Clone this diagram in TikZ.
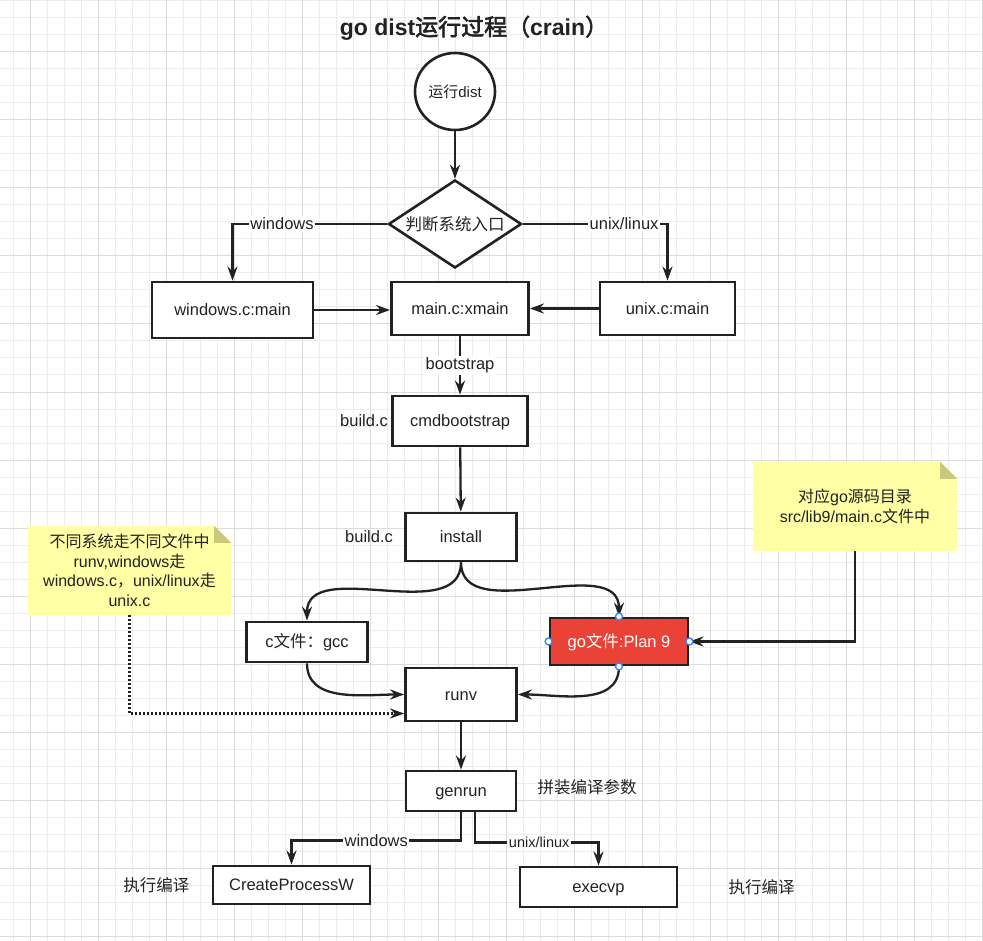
\documentclass[tikz,border=0pt]{standalone}
\usepackage{fontspec}
\setmainfont{Liberation Sans}
\newfontfamily\zhfont{Noto Sans CJK SC}[AutoFakeBold=2.5]
\usepackage{tikz}
\usetikzlibrary{positioning}
\usetikzlibrary{shapes.geometric, arrows.meta}
\definecolor{myline}{RGB}{34,34,34}
\definecolor{mynote}{HTML}{FFFFA5}
\definecolor{myfold}{HTML}{C9C87B}
\definecolor{myred}{HTML}{EA4237}
\definecolor{myhand}{HTML}{3A86F0}
\definecolor{mygri1}{HTML}{EDEDED}
\definecolor{mygri2}{HTML}{DCDCDC}
\pgfdeclarelayer{grid}
\pgfdeclarelayer{paper}
\pgfsetlayers{grid,paper,main}
\tikzstyle{startstop} = [ellipse, minimum width=80, minimum height=77, inner sep=0pt, draw=myline, line width=2.6pt, fill=white, text=myline, font=\fontsize{15}{18}\selectfont]
\tikzstyle{decision} = [diamond, aspect=1.5, minimum width=133, minimum height=88, inner sep=0pt, draw=myline, line width=2.6pt, fill=white, text=myline, font=\fontsize{16.5}{19}\selectfont]
\tikzstyle{process} = [rectangle, inner sep=0pt, draw=myline, line width=2.8pt, fill=white, text=myline, text height=13.5pt, text depth=2pt, font=\fontsize{16.5}{19}\selectfont]
\tikzstyle{goproc} = [process, fill=myred, text=white]
\tikzstyle{note} = [rectangle, align=center, inner sep=0pt, text=myline, font=\fontsize{16}{19.5}\selectfont]
\tikzstyle{tag} = [fill=white, inner sep=1.5pt, text=myline, font=\fontsize{16.5}{19}\selectfont]
\tikzstyle{aside} = [inner sep=0pt, text=myline, font=\fontsize{16.5}{19}\selectfont]
\tikzstyle{flow} = [line width=2.3pt, draw=myline, ->, >={Stealth[length=14pt,width=10pt]}]
\tikzstyle{hint} = [flow, dash pattern=on 2pt off 2pt]
\tikzstyle{handle} = [draw=myhand, fill=white, line width=1.4pt]
\tikzstyle{minorgrid} = [draw=mygri1, line width=1pt]
\tikzstyle{majorgrid} = [draw=mygri2, line width=1pt]

\begin{document}
\begin{tikzpicture}[x=1pt,y=-1pt]
	\useasboundingbox (0,0) rectangle (983,941);
	% squared paper
	\begin{pgfonlayer}{grid}
	\fill[white] (0,0) rectangle (983,941);
	\foreach \gx in {13.5,30.5,...,983} \draw[minorgrid] (\gx,0) -- (\gx,941);
	\foreach \gy in {1,18,...,941} \draw[minorgrid] (0,\gy) -- (983,\gy);
	\foreach \gx in {30.5,98.5,...,983} \draw[majorgrid] (\gx,0) -- (\gx,941);
	\foreach \gy in {52,120,...,941} \draw[majorgrid] (0,\gy) -- (983,\gy);
	\end{pgfonlayer}

	\node (title) [text=myline, font=\fontsize{23}{28}\selectfont\bfseries] at (474,28) {go dist{\zhfont 运行过程（}crain{\zhfont ）}};
	\node (start) [startstop] at (455,91.5) {{\zhfont 运行}dist};
	\node (judge) [decision] at (455,224) {\zhfont 判断系统入口};
	\node (winmain) [process, minimum width=161, minimum height=56] at (232.5,310) {windows.c:main};
	\node (xmain) [process, minimum width=137, minimum height=53] at (460,308.5) {main.c:xmain};
	\node (unixmain) [process, minimum width=135, minimum height=53] at (667.5,308.5) {unix.c:main};
	\node (cmdboot) [process, minimum width=135, minimum height=50] at (460,421) {cmdbootstrap};
	\node (install) [process, minimum width=111, minimum height=48] at (461,537) {install};
	\node (cfile) [process, minimum width=121, minimum height=40] at (307,642) {c{\zhfont 文件：}gcc};
	\node (gofile) [goproc, minimum width=138, minimum height=47] at (619,641.5) {go{\zhfont 文件}:Plan 9};
	\node (runv) [process, minimum width=111, minimum height=53] at (461,694.5) {runv};
	\node (genrun) [process, minimum width=110, minimum height=40] at (461,791) {genrun};
	\node (createp) [process, minimum width=157, minimum height=38] at (291.5,885) {CreateProcessW};
	\node (execvp) [process, minimum width=157, minimum height=40] at (598.5,887) {execvp};
	\node (note1) [note, minimum width=203, minimum height=89] at (129.5,570.5) {{\zhfont 不同系统走不同文件中}\\runv,windows{\zhfont 走}\\windows.c{\zhfont ，}unix/linux{\zhfont 走}\\unix.c};
	\node (note2) [note, minimum width=204, minimum height=89] at (855,506.5) {{\zhfont 对应}go{\zhfont 源码目录}\\src/lib9/main.c{\zhfont 文件中}};
	\node (bld1) [aside, left=3pt of cmdboot] {build.c};
	\node (bld2) [aside, left=11pt of install] {build.c};
	\node (pin) [aside, right=20pt of genrun, yshift=4pt] {\zhfont 拼装编译参数};
	\node (exec1) [aside, left=22pt of createp] {\zhfont 执行编译};
	\node (exec2) [aside, right=50pt of execvp] {\zhfont 执行编译};

	\begin{pgfonlayer}{paper}
	\foreach \n in {note1,note2} {
		\fill[mynote] (\n.south west) -- (\n.north west) -- ([xshift=-17pt]\n.north east) -- ([yshift=-17pt]\n.north east) -- (\n.south east) -- cycle;
		\fill[myfold] ([xshift=-17pt]\n.north east) -- ([xshift=-17pt,yshift=-17pt]\n.north east) -- ([yshift=-17pt]\n.north east) -- cycle;
	}
	\end{pgfonlayer}

	\draw [flow] (start) -- (judge);
	\draw [flow] (judge.west) -| node[tag, pos=0.34] {windows} (winmain.north);
	\draw [flow] (judge.east) -| node[tag, pos=0.35] {unix/linux} (unixmain.north);
	\draw [flow] (winmain.east) -- (winmain.east -| xmain.west);
	\draw [flow] (unixmain.west) -- (xmain.east);
	\draw [flow] (xmain) -- node[tag] {bootstrap} (cmdboot);
	\draw [flow] (cmdboot) -- (install);
	\draw [flow] (install.south) to[out=-90, in=90] (cfile.north);
	\draw [flow] (install.south) to[out=-90, in=90] (gofile.north);
	\draw [flow] (cfile.south) to[out=-90, in=180] (runv.west);
	\draw [flow] (gofile.south) to[out=-90, in=0] (runv.east);
	\draw [hint] (note1.south) |- ([yshift=-19pt]runv.west);
	\draw [flow] (note2.south) |- (gofile.east);
	\draw [flow] (runv) -- (genrun);
	\draw [flow] (genrun.south) -- ++(0,28) -| node[tag, pos=0.25] {windows} (createp.north);
	\draw [flow] ([xshift=14pt]genrun.south) -- ++(0,30) -| node[tag, pos=0.26, font=\fontsize{14.5}{17}\selectfont] {unix/linux} (execvp.north);
	\foreach \a in {north,south,east,west} \draw[handle] (gofile.\a) circle (3.5pt);
\end{tikzpicture}
\end{document}
